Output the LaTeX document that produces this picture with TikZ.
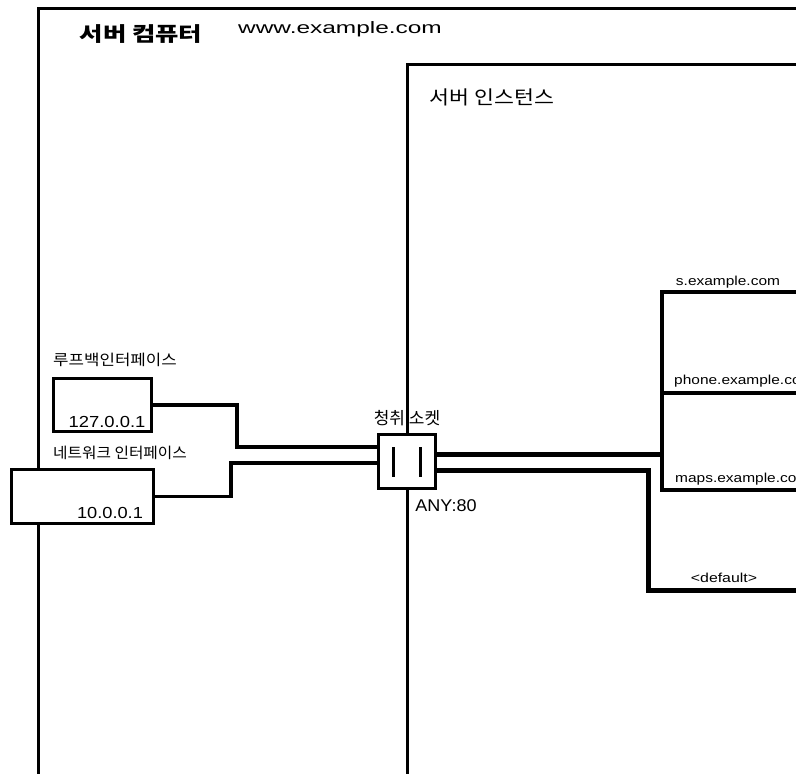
\documentclass[tikz,border=0pt]{standalone}
\usepackage{fontspec}
\usepackage{graphicx}
\setmainfont{Liberation Sans}
\newfontfamily\kr{Noto Sans CJK KR}
\newcommand{\stx}[2]{\scalebox{#1}[1]{#2}}
\newcommand{\fs}[1]{\fontsize{#1}{#1}\selectfont}
\begin{document}
\begin{tikzpicture}[x=1pt,y=-1pt,
  frame/.style={line width=3pt},
  box/.style={draw,line width=3pt,fill=white,inner sep=0pt},
  conn/.style={line width=3.5pt},
  heavy/.style={line width=5pt},
  hostline/.style={line width=3.5pt},
  txt/.style={inner sep=0pt}]
\useasboundingbox (0,0) rectangle (796,774);
\clip (0,0) rectangle (796,774);

% frames (cropped boxes)
\coordinate (outerBL) at (38,800);
\coordinate (outerTL) at (38,8.5);
\coordinate (outerTR) at (830,8.5);
\coordinate (instBL) at (407,800);
\coordinate (instTL) at (407,64.5);
\coordinate (instTR) at (830,64.5);
\draw[frame] (outerBL) -- (outerTL) -- (outerTR);
\draw[frame] (instBL) -- (instTL) -- (instTR);

% titles
\node[txt,font=\kr\bfseries\fs{20}] (t1) at (141,34) {\stx{1.27}{서버 컴퓨터}};
\node[txt,font=\fs{16.5},anchor=base] (t2) at (340,33) {\stx{1.48}{www.example.com}};
\node[txt,font=\kr\fs{19}] (t3) at (492,97.5) {\stx{1.14}{서버 인스턴스}};

% interface boxes
\node[box,minimum width=98pt,minimum height=53pt] (lo) at (102.5,405) {};
\node[box,minimum width=142pt,minimum height=54pt] (net) at (82.5,496.5) {};
\node[txt,font=\kr\fs{15}] (lolab) at (115,360) {\stx{1.12}{루프백인터페이스}};
\node[txt,font=\kr\fs{15}] (netlab) at (120,453) {\stx{1.05}{네트워크 인터페이스}};
\node[txt,font=\fs{16},anchor=base] (loip) at (107,427) {\stx{1.15}{127.0.0.1}};
\node[txt,font=\fs{16},anchor=base] (netip) at (110,518) {\stx{1.14}{10.0.0.1}};

% listening socket
\node[box,minimum width=57pt,minimum height=54pt] (sock) at (407,461.5) {};
\draw[line width=3.5pt] (393.5,447) -- (393.5,477);
\draw[line width=3.5pt] (420.5,447) -- (420.5,477);
\node[txt,font=\kr\fs{17}] (socklab) at (407,418.5) {청취 소켓};
\node[txt,font=\fs{17},anchor=base] (any) at (446,511) {\stx{1.06}{ANY:80}};

% left connectors
\coordinate (lo1) at (237,405);
\coordinate (lo2) at (237,447);
\coordinate (net1) at (231,496.5);
\coordinate (net2) at (231,463);
\draw[conn] (lo.east) -- (lo1) -- (lo2) -- (sock.west |- lo2);
\draw[conn] (net.east) -- (net1) -- (net2) -- (sock.west |- net2);

% virtual hosts
\coordinate (hA) at (662,292);
\coordinate (hB) at (662,393);
\coordinate (hC) at (662,490);
\coordinate (hAr) at (830,292);
\coordinate (hBr) at (830,393);
\coordinate (hCr) at (830,490);
\draw[hostline] (hAr) -- (hA) -- (hC) -- (hCr);
\draw[hostline] (hB) -- (hBr);
\coordinate (tap) at (662,454);
\coordinate (d1) at (648,470);
\coordinate (d2) at (648,590);
\coordinate (d3) at (830,590);
\draw[heavy] (sock.east |- tap) -- (tap);
\draw[heavy] (sock.east |- d1) -- (d1) -- (d2) -- (d3);

\node[txt,font=\fs{13},anchor=base] (hs) at (728,285) {\stx{1.19}{s.example.com}};
\node[txt,font=\fs{13},anchor=base west] (hp) at (674,384.5) {\stx{1.19}{phone.example.com}};
\node[txt,font=\fs{13},anchor=base west] (hm) at (675,482.5) {\stx{1.19}{maps.example.com}};
\node[txt,font=\fs{13},anchor=base] (hd) at (724,582) {\stx{1.22}{<default>}};
\end{tikzpicture}
\end{document}
